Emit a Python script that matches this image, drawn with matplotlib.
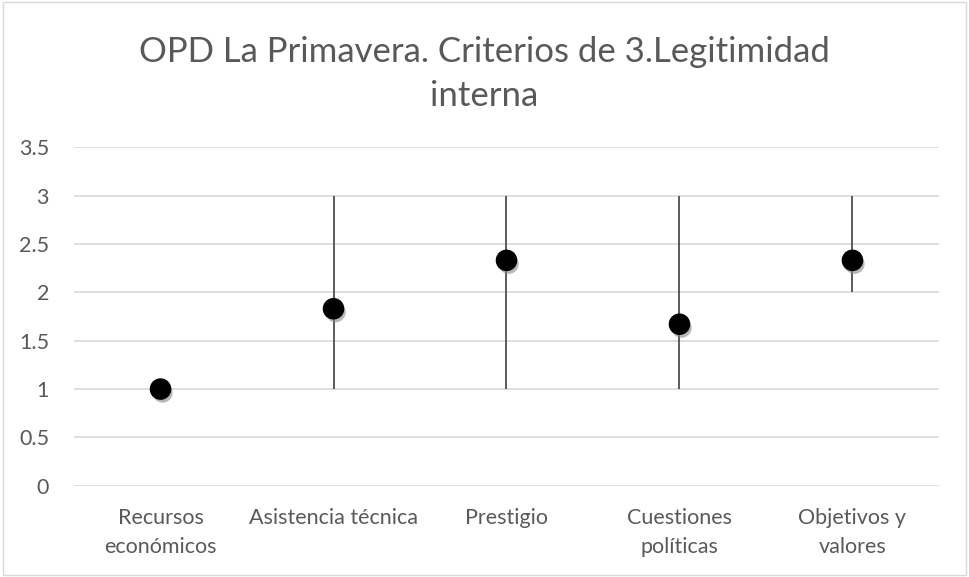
import matplotlib.pyplot as plt
import matplotlib.patheffects as pe
from matplotlib.patches import Rectangle

plt.rcParams['font.family'] = ['Lato', 'DejaVu Sans']

categories = ['Recursos\neconómicos', 'Asistencia técnica', 'Prestigio',
              'Cuestiones\npolíticas', 'Objetivos y\nvalores']
means = [1.0, 1.83, 2.33, 1.67, 2.33]
lows = [1, 1, 1, 1, 2]
highs = [1, 3, 3, 3, 3]
y_ticks = [0, 0.5, 1, 1.5, 2, 2.5, 3, 3.5]
y_labels = ['0', '0.5', '1', '1.5', '2', '2.5', '3', '3.5']

fig = plt.figure(figsize=(9.69, 5.77), dpi=100)
ax = fig.add_axes([0.0764, 0.158, 0.8926, 0.587])

x = list(range(len(categories)))
ax.vlines(x, lows, highs, color='#404040', lw=1.2, zorder=2)
ax.plot(x, means, 'o', color='black', ms=14.5, ls='none', zorder=3,
        path_effects=[pe.SimplePatchShadow(offset=(1.5, -2.5), shadow_rgbFace='#888888', alpha=0.6),
                      pe.Normal()])

ax.set_xlim(-0.5, len(categories) - 0.5)
ax.set_ylim(0, 3.5)
ax.set_yticks(y_ticks)
ax.set_yticklabels(y_labels)
ax.set_xticks(x)
ax.set_xticklabels(categories, linespacing=1.55)
ax.grid(axis='y', color='#d9d9d9', lw=1.2)
ax.set_axisbelow(True)
for s in ax.spines.values():
    s.set_visible(False)
ax.tick_params(length=0, labelsize=15.5, colors='#595959')
ax.tick_params(axis='x', pad=16)
ax.tick_params(axis='y', pad=18)

fig.text(0.5, 0.872, 'OPD La Primavera. Criterios de 3.Legitimidad\ninterna',
         ha='center', va='center', fontsize=25, color='#595959', linespacing=1.45)

fig.patches.append(Rectangle((0.003, 0.003), 0.994, 0.994, transform=fig.transFigure,
                             fill=False, edgecolor='#d9d9d9', lw=1))

fig.savefig('out.png', dpi=100)
